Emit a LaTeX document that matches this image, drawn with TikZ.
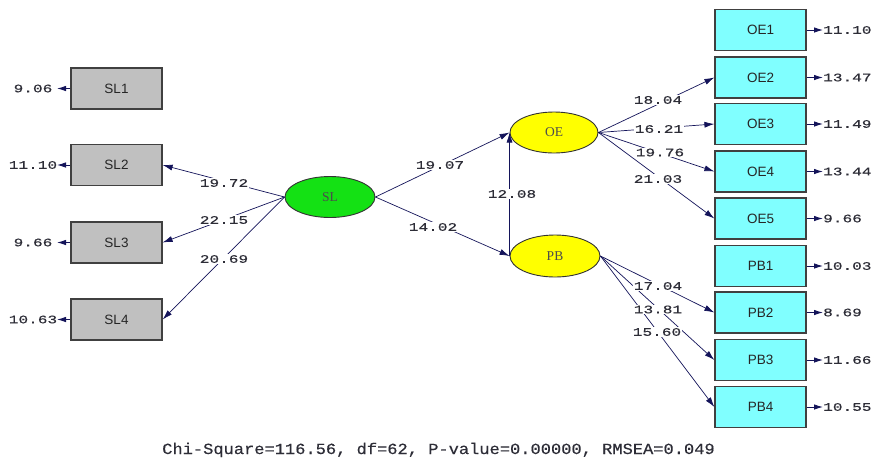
\documentclass[tikz,border=0pt]{standalone}
\usepackage{fontspec}
\usetikzlibrary{shapes.geometric,arrows.meta}
\newfontfamily\lismono[FakeStretch=1.4,FakeBold=0.4]{Liberation Mono}
\newfontfamily\chifont[FakeStretch=1.1,FakeBold=0.3]{Liberation Mono}
\newfontfamily\boxfont{Liberation Sans}
\newfontfamily\latfont{Liberation Serif}
\definecolor{navy}{RGB}{20,20,90}
\definecolor{boxgray}{RGB}{192,192,192}
\definecolor{boxcyan}{RGB}{128,255,255}
\definecolor{latgreen}{RGB}{20,225,20}
\definecolor{latyellow}{RGB}{255,255,0}
\definecolor{numcol}{RGB}{45,45,55}
\begin{document}
\begin{tikzpicture}[x=1pt,y=-1pt,
  obsbox/.style={rectangle, draw=black!75, line width=1.2pt, minimum width=91pt, minimum height=41pt, inner sep=0pt, font=\boxfont\fontsize{13.5}{13.5}\selectfont, text=black!85},
  obsgray/.style={obsbox, fill=boxgray},
  obscyan/.style={obsbox, fill=boxcyan},
  latvar/.style={ellipse, draw=black!80, line width=0.9pt, minimum width=90pt, minimum height=41pt, inner sep=0pt, font=\latfont\fontsize{13.5}{13.5}\selectfont, text=black!70},
  pathline/.style={draw=navy, line width=0.7pt, -{Latex[length=10pt,width=6pt]}},
  errarrow/.style={draw=navy, line width=0.9pt, -{Latex[length=9pt,width=5.5pt]}},
  coef/.style={fill=white, inner sep=1pt, font=\lismono\fontsize{11.5}{11.5}\selectfont, text=numcol},
  errnum/.style={inner sep=0pt, font=\lismono\fontsize{11.5}{11.5}\selectfont, text=numcol},
  fitline/.style={inner sep=0pt, font=\chifont\fontsize{15.5}{15.5}\selectfont, text=numcol}
]
\useasboundingbox (0,0) rectangle (873,459);
\fill[white] (0,0) rectangle (873,459);

% observed variables, left
\node[obsgray] (SL1) at (116.5,88.5) {SL1};
\node[obsgray] (SL2) at (116.5,165) {SL2};
\node[obsgray] (SL3) at (116.5,242.5) {SL3};
\node[obsgray] (SL4) at (116.5,319.5) {SL4};

% observed variables, right
\node[obscyan] (OE1) at (760.5,30) {OE1};
\node[obscyan] (OE2) at (760.5,77.5) {OE2};
\node[obscyan] (OE3) at (760.5,124) {OE3};
\node[obscyan] (OE4) at (760.5,171.5) {OE4};
\node[obscyan] (OE5) at (760.5,218.5) {OE5};
\node[obscyan] (PB1) at (760.5,266) {PB1};
\node[obscyan] (PB2) at (760.5,312.5) {PB2};
\node[obscyan] (PB3) at (760.5,360) {PB3};
\node[obscyan] (PB4) at (760.5,407) {PB4};

% latent variables
\node[latvar, fill=latgreen] (SL) at (330,197) {SL};
\node[latvar, fill=latyellow, minimum width=88pt] (OE) at (554,132.5) {OE};
\node[latvar, fill=latyellow, minimum height=42pt] (PB) at (555,256) {PB};

% paths
\draw[pathline] (SL.west) -- (SL2.east);
\draw[pathline] (SL.west) -- (SL3.east);
\draw[pathline] (SL.west) -- (SL4.east);
\draw[pathline] (SL.east) -- (OE.west);
\draw[pathline] (SL.east) -- (PB.west);
\draw[pathline] (PB.west) -- (OE.west);
\draw[pathline] (OE.east) -- (OE2.west);
\draw[pathline] (OE.east) -- (OE3.west);
\draw[pathline] (OE.east) -- (OE4.west);
\draw[pathline] (OE.east) -- (OE5.west);
\draw[pathline] (PB.east) -- (PB2.west);
\draw[pathline] (PB.east) -- (PB3.west);
\draw[pathline] (PB.east) -- (PB4.west);

% coefficients
\node[coef] (c1) at (440,165) {19.07};
\node[coef] (c2) at (433,227) {14.02};
\node[coef] (c3) at (512,194) {12.08};
\node[coef] (c4) at (224,183) {19.72};
\node[coef] (c5) at (224,220) {22.15};
\node[coef] (c6) at (224,259) {20.69};
\node[coef] (c7) at (658,100) {18.04};
\node[coef] (c8) at (659,129) {16.21};
\node[coef] (c9) at (660,152.5) {19.76};
\node[coef] (c10) at (658,179) {21.03};
\node[coef] (c11) at (658,286) {17.04};
\node[coef] (c12) at (658,309.5) {13.81};
\node[coef] (c13) at (657,332) {15.60};

% error variances, left
\node[errnum] (eSL1) at (33,88.5) {9.06};
\node[errnum] (eSL2) at (33,165) {11.10};
\node[errnum] (eSL3) at (33,242.5) {9.66};
\node[errnum] (eSL4) at (33,319.5) {10.63};
\coordinate (tSL1) at (57,88.5);
\coordinate (tSL2) at (57,165);
\coordinate (tSL3) at (57,242.5);
\coordinate (tSL4) at (57,319.5);
\draw[errarrow] (SL1.west) -- (tSL1);
\draw[errarrow] (SL2.west) -- (tSL2);
\draw[errarrow] (SL3.west) -- (tSL3);
\draw[errarrow] (SL4.west) -- (tSL4);

% error variances, right
\node[errnum, anchor=west] (eOE1) at (823,30) {11.10};
\node[errnum, anchor=west] (eOE2) at (823,77.5) {13.47};
\node[errnum, anchor=west] (eOE3) at (823,124) {11.49};
\node[errnum, anchor=west] (eOE4) at (823,171.5) {13.44};
\node[errnum, anchor=west] (eOE5) at (823,218.5) {9.66};
\node[errnum, anchor=west] (ePB1) at (823,266) {10.03};
\node[errnum, anchor=west] (ePB2) at (823,312.5) {8.69};
\node[errnum, anchor=west] (ePB3) at (823,360) {11.66};
\node[errnum, anchor=west] (ePB4) at (823,407) {10.55};
\foreach \v in {OE1,OE2,OE3,OE4,OE5,PB1,PB2,PB3,PB4}
  \draw[errarrow] (\v.east) -- (e\v.west);

% fit statistics
\node[fitline, anchor=base] (fit) at (438.5,454) {Chi-Square=116.56, df=62, P-value=0.00000, RMSEA=0.049};
\end{tikzpicture}
\end{document}
